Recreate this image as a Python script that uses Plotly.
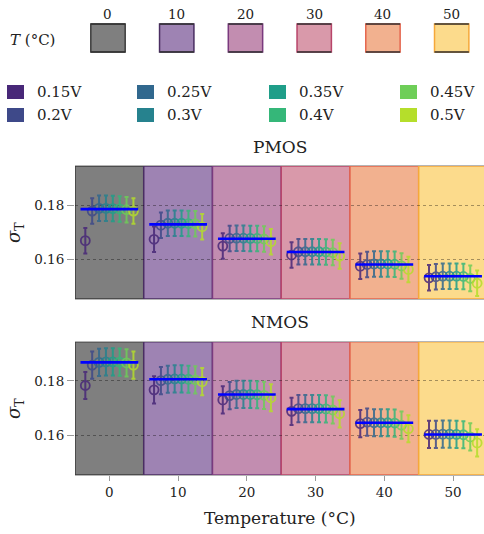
import plotly.graph_objects as go

# Temperatures (°C) and supply voltages
temps = [0, 10, 20, 30, 40, 50]
voltages = ["0.15V", "0.2V", "0.25V", "0.3V", "0.35V", "0.4V", "0.45V", "0.5V"]
volt_colors = ["#482878", "#3e4989", "#31688e", "#26828e",
               "#1f9e89", "#35b779", "#6ece58", "#b5de2b"]

# Temperature band fills / edges
band_fill = ["#7f7f7f", "#9e83b3", "#c28db0", "#d999aa", "#f2b18f", "#fcdb8c"]
band_edge = ["#3c3c3c", "#4a2e62", "#7a3a7e", "#b8456a", "#e5664e", "#f5a83a"]

# sigma_T per voltage across temperatures
pmos = {
    "0.15V": [0.1669, 0.1674, 0.1649, 0.1616, 0.1575, 0.1532],
    "0.2V":  [0.1778, 0.1726, 0.1677, 0.1628, 0.1581, 0.1536],
    "0.25V": [0.1788, 0.1733, 0.1678, 0.1628, 0.1583, 0.1538],
    "0.3V":  [0.1788, 0.1733, 0.1678, 0.1628, 0.1583, 0.1538],
    "0.35V": [0.1787, 0.1733, 0.1677, 0.1628, 0.1583, 0.1538],
    "0.4V":  [0.1786, 0.1732, 0.1677, 0.1627, 0.1582, 0.1537],
    "0.45V": [0.1783, 0.1731, 0.1675, 0.1625, 0.1576, 0.1530],
    "0.5V":  [0.1778, 0.1720, 0.1665, 0.1612, 0.1563, 0.1512],
}
pmos_err = [0.0047, 0.0047, 0.0047, 0.0047, 0.0047, 0.0047]
pmos_mean = [0.1785, 0.1729, 0.1676, 0.1627, 0.1581, 0.1538]

nmos = {
    "0.15V": [0.1783, 0.1767, 0.1730, 0.1688, 0.1643, 0.1603],
    "0.2V":  [0.1858, 0.1801, 0.1746, 0.1698, 0.1648, 0.1603],
    "0.25V": [0.1868, 0.1806, 0.1750, 0.1698, 0.1646, 0.1604],
    "0.3V":  [0.1870, 0.1807, 0.1750, 0.1698, 0.1646, 0.1604],
    "0.35V": [0.1870, 0.1807, 0.1750, 0.1698, 0.1646, 0.1603],
    "0.4V":  [0.1869, 0.1806, 0.1749, 0.1697, 0.1645, 0.1602],
    "0.45V": [0.1866, 0.1804, 0.1747, 0.1693, 0.1637, 0.1594],
    "0.5V":  [0.1858, 0.1797, 0.1738, 0.1679, 0.1624, 0.1572],
}
nmos_err = [0.0050, 0.0050, 0.0050, 0.0050, 0.0050, 0.0050]
nmos_mean = [0.1868, 0.1806, 0.1750, 0.1696, 0.1646, 0.1603]

FONT = "DejaVu Serif"
TXT = "#222222"
W, H = 484, 534
ML, MR, MT, MB = 75, 0, 166, 59
PW, PH = W - ML - MR, H - MT - MB


def px_x(px):
    return (px - ML) / PW


def px_y(py):
    return (H - MB - py) / PH


def label(text, x, y, size, xref="paper", xanchor="center", angle=0):
    return dict(xref=xref, yref="paper", x=x, y=y, text=text,
                xanchor=xanchor, yanchor="middle", textangle=angle,
                showarrow=False, font=dict(family=FONT, size=size, color=TXT))


fig = go.Figure()

panels = [("x2", "y2", pmos, pmos_err, pmos_mean),
          ("x", "y", nmos, nmos_err, nmos_mean)]

for xa, ya, data, err, means in panels:
    for i, (v, c) in enumerate(zip(voltages, volt_colors)):
        fig.add_trace(go.Scatter(
            x=[t + i - 3.5 for t in temps], y=data[v],
            mode="markers", xaxis=xa, yaxis=ya, showlegend=False,
            opacity=0.85,
            marker=dict(symbol="circle-open", size=9, color=c,
                        line=dict(width=1.8)),
            error_y=dict(type="data", array=err, color=c,
                         thickness=2, width=2),
        ))
    for t, m in zip(temps, means):
        fig.add_trace(go.Scatter(
            x=[t - 4.2, t + 4.2], y=[m, m], mode="lines",
            xaxis=xa, yaxis=ya, showlegend=False,
            line=dict(color="#0000ff", width=2.6),
        ))

# temperature bands in both panels
shapes = []
for xa, ya in [("x", "y"), ("x2", "y2")]:
    for t, fc, ec in zip(temps, band_fill, band_edge):
        shapes.append(dict(type="rect", xref=xa, yref=f"{ya} domain",
                           x0=t - 5, x1=t + 5, y0=0, y1=1,
                           fillcolor=fc, line=dict(color=ec, width=1.5),
                           layer="below"))

annotations = []

# temperature key above the panels
for t, fc, ec in zip(temps, band_fill, band_edge):
    shapes.append(dict(type="rect", xref="x", yref="paper",
                       x0=t - 2.7, x1=t + 2.3, y0=px_y(52), y1=px_y(24),
                       fillcolor=fc, line=dict(color=ec, width=1.5)))
    for yy in (24, 52):
        shapes.append(dict(type="line", xref="x", yref="paper",
                           x0=t - 2.7, x1=t + 2.3, y0=px_y(yy), y1=px_y(yy),
                           line=dict(color="#333333", width=1.5)))
    annotations.append(label(str(t), t - 0.2, px_y(14), 13.5, xref="x"))
annotations.append(label("<i>T</i> (°C)", px_x(8), px_y(40), 15,
                         xanchor="left"))

# voltage key
col_sq = [7, 137, 269, 400]
row_y = [92, 115]
for i, (v, c) in enumerate(zip(voltages, volt_colors)):
    col, row = divmod(i, 2)
    x0 = col_sq[col]
    yc = row_y[row]
    shapes.append(dict(type="rect", xref="paper", yref="paper",
                       x0=px_x(x0), x1=px_x(x0 + 17),
                       y0=px_y(yc + 7), y1=px_y(yc - 7),
                       fillcolor=c, line=dict(width=0)))
    annotations.append(label(v, px_x(x0 + 28), px_y(yc), 15,
                             xanchor="left"))

# panel titles and axis titles
annotations += [
    label("PMOS", 0.5, px_y(147), 17),
    label("NMOS", 0.5, px_y(322), 17),
    label("Temperature (°C)", 0.5, px_y(518), 17),
    label("<i>σ</i><sub>T</sub>", px_x(15), px_y(232), 18, angle=-90),
    label("<i>σ</i><sub>T</sub>", px_x(15), px_y(408), 18, angle=-90),
]

yax = dict(range=[0.1454, 0.1944], tickvals=[0.16, 0.18],
           ticktext=["0.16", "0.18"], ticks="outside", ticklen=7,
           tickcolor="#999", showgrid=True, gridcolor="rgba(0,0,0,0.35)",
           griddash="3px,3px", gridwidth=1, zeroline=False, showline=False,
           tickfont=dict(family=FONT, size=13.5, color=TXT))
xax = dict(range=[-5, 54.5], tickvals=temps, ticks="outside", ticklen=5,
           tickcolor="#999", showgrid=False, zeroline=False,
           showline=True, mirror=True, linecolor="#b5b5b5", linewidth=1,
           tickfont=dict(family=FONT, size=13.5, color=TXT))

fig.update_layout(
    width=W, height=H,
    margin=dict(l=ML, r=MR, t=MT, b=MB),
    paper_bgcolor="white", plot_bgcolor="white",
    xaxis=dict(xax, anchor="y"),
    yaxis=dict(yax, domain=[0, px_y(341.7)], anchor="x"),
    xaxis2=dict(xax, anchor="y2", matches="x", showticklabels=False, ticks=""),
    yaxis2=dict(yax, domain=[px_y(299), 1], anchor="x2"),
    shapes=shapes, annotations=annotations,
    showlegend=False,
)

fig.write_html("out.html")
